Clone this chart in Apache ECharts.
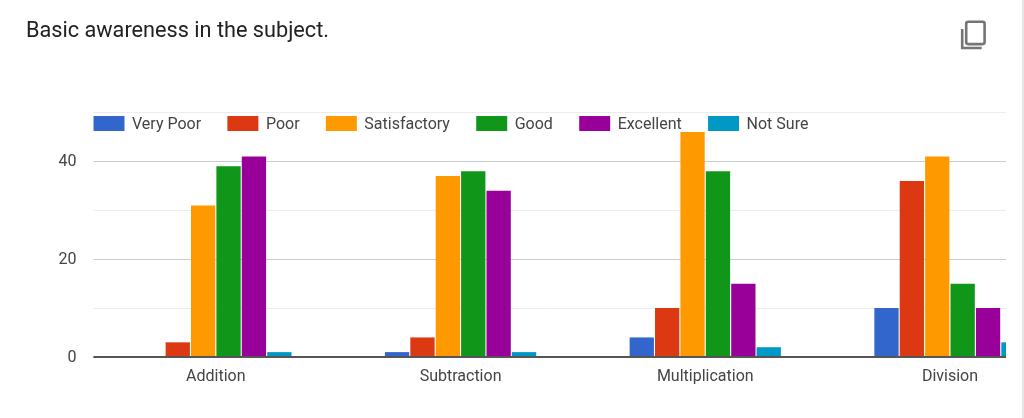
<!DOCTYPE html>
<html>
<head>
<meta charset="utf-8">
<style>html,body{margin:0;padding:0;background:#fff}#c{width:1024px;height:418px}</style>
<script src="https://cdn.jsdelivr.net/npm/echarts@6/dist/echarts.min.js"></script>
</head>
<body>
<div id="c"></div>
<script>
const categories = ['Addition', 'Subtraction', 'Multiplication', 'Division'];
const seriesNames = ['Very Poor', 'Poor', 'Satisfactory', 'Good', 'Excellent', 'Not Sure'];
const veryPoor = [0, 1, 4, 10];
const poor = [3, 4, 10, 36];
const satisfactory = [31, 37, 46, 41];
const good = [39, 38, 38, 15];
const excellent = [41, 34, 15, 10];
const notSure = [1, 1, 2, 3];
const colors = ['#3366cc', '#dc3912', '#ff9900', '#109618', '#990099', '#0099c6'];
const yTickLabels = [0, 20, 40];

const allValues = [veryPoor, poor, satisfactory, good, excellent, notSure];
const font = 'Roboto';
const nudged = {a: {fontFamily: font, fontSize: 16, color: '#444', padding: [2, 0, 0, 0]}};
const chart = echarts.init(document.getElementById('c'), null, {renderer: 'canvas'});
chart.setOption({
  animation: false,
  backgroundColor: '#fff',
  color: colors,
  title: {
    text: 'Basic awareness in the subject.',
    left: 26, top: 21, padding: 0,
    textStyle: {fontFamily: font, fontSize: 21.7, fontWeight: 'normal', color: '#212121'}
  },
  legend: {
    left: 93.5, top: 116, padding: 0,
    itemWidth: 31, itemHeight: 15, itemGap: 26.3, icon: 'rect',
    formatter: name => '{a|' + name + '}',
    textStyle: {fontFamily: font, fontSize: 16, color: '#444', padding: [0, 0, 0, 2.5], rich: nudged},
    data: seriesNames
  },
  grid: {left: 93.5, right: 18, top: 112.5, bottom: 61},
  xAxis: {
    type: 'value', min: -0.5, max: 3.229,
    splitLine: {show: false},
    axisTick: {show: false},
    axisLine: {show: false},
    axisLabel: {
      customValues: [0, 1, 2, 3],
      formatter: v => categories[v],
      fontFamily: font, fontSize: 16, color: '#444', margin: 11.5,
      showMinLabel: true, showMaxLabel: true
    }
  },
  yAxis: {
    type: 'value', min: 0, max: 50, interval: 10,
    axisLine: {show: false},
    axisTick: {show: false},
    splitLine: {lineStyle: {color: ['#444444', '#ececec', '#cccccc', '#ececec', '#cccccc', '#ececec'], width: 1}},
    axisLabel: {
      customValues: yTickLabels,
      formatter: v => '{a|' + v + '}',
      rich: nudged,
      fontFamily: font, fontSize: 16, color: '#444', margin: 17
    }
  },
  series: seriesNames.map((name, i) => ({
    name, type: 'bar',
    barWidth: 24.3, barGap: '4.5%',
    data: allValues[i].map((v, k) => [k, v])
  })),
  graphic: [
    {type: 'rect', z: 50, shape: {x: 1006, y: 100, width: 16, height: 262}, style: {fill: '#fff'}},
    {type: 'line', z: 50, shape: {x1: 93.5, y1: 357, x2: 1006, y2: 357}, style: {stroke: '#555', lineWidth: 2}},
    {type: 'rect', z: 50, shape: {x: 1022, y: 0, width: 2, height: 418}, style: {fill: '#e6e6e6'}},
    {type: 'rect', z: 50, shape: {x: 966.2, y: 21.7, width: 18.4, height: 22.4, r: 2}, style: {fill: 'none', stroke: '#757575', lineWidth: 2.6}},
    {type: 'polyline', z: 50, shape: {points: [[962.2, 29], [962.2, 48], [981.7, 48]]}, style: {fill: 'none', stroke: '#757575', lineWidth: 2.6}}
  ]
});
</script>
</body>
</html>
